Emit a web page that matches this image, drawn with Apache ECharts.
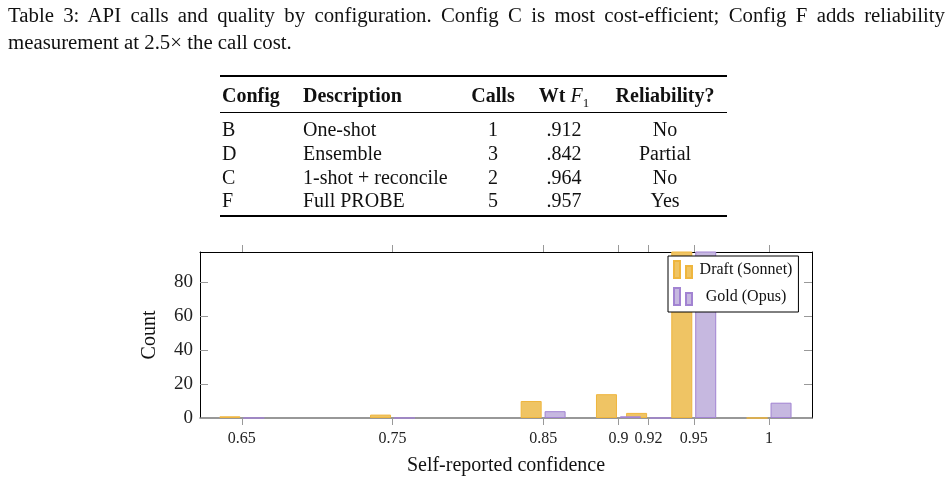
<!DOCTYPE html>
<html>
<head>
<meta charset="utf-8">
<script src="https://cdn.jsdelivr.net/npm/echarts@6/dist/echarts.min.js"></script>
<style>
body { margin: 0; background: #fff; }
#wrap { position: relative; width: 949px; height: 484px; font-family: 'Liberation Serif', serif; color: #111; }
#chart { position: absolute; left: 0; top: 0; width: 949px; height: 484px; }
.caption { position: absolute; left: 8px; font-size: 20.8px; line-height: 27px; white-space: nowrap; z-index: 2; }
.caption.first { top: 1px; width: 937px; white-space: normal; text-align: justify; text-align-last: justify; }
.caption.second { top: 28px; }
.rule { position: absolute; left: 220px; width: 507px; background: #000; z-index: 2; }
.cell { position: absolute; font-size: 20px; line-height: 22px; white-space: nowrap; z-index: 2; }
</style>
</head>
<body>
<div id="wrap">
  <div id="chart"></div>
  <div class="caption first">Table 3: API calls and quality by configuration. Config C is most cost-efficient; Config F adds reliability</div>
  <div class="caption second">measurement at 2.5&times; the call cost.</div>
  <div id="table"></div>
</div>
<script>
// table data
const tableHeaders = ['<b>Config</b>', '<b>Description</b>', '<b>Calls</b>', '<b>Wt</b> <i>F</i><sub style="font-size:13px">1</sub>', '<b>Reliability?</b>']
const configs = ['B', 'D', 'C', 'F']
const descriptions = ['One-shot', 'Ensemble', '1-shot + reconcile', 'Full PROBE']
const calls = ['1', '3', '2', '5']
const wtF1 = ['.912', '.842', '.964', '.957']
const reliability = ['No', 'Partial', 'No', 'Yes']

// chart data
const confidence = [0.65, 0.75, 0.85, 0.9, 0.92, 0.95, 1]
const draftCounts = [1, 2, 10, 14, 3, 112, 0]
const goldCounts = [0, 0, 4, 1, 0, 110, 9]
const yTicks = [0, 20, 40, 60, 80]

// build table
const table = document.getElementById('table')
const colX = [222, 303, 493, 564, 665]
const colAlign = ['left', 'left', 'center', 'center', 'center']
const headerY = 95
const rowY = [129, 153, 177, 200]

function addCell(html, col, y) {
  const el = document.createElement('div')
  el.className = 'cell'
  el.innerHTML = html
  el.style.top = (y - 11) + 'px'
  el.style.left = colX[col] + 'px'
  if (colAlign[col] === 'center') el.style.transform = 'translateX(-50%)'
  table.appendChild(el)
}
function addRule(y, h) {
  const el = document.createElement('div')
  el.className = 'rule'
  el.style.top = y + 'px'
  el.style.height = h + 'px'
  table.appendChild(el)
}
addRule(75, 1.6)
addRule(112, 1)
addRule(215, 1.6)
tableHeaders.forEach((h, c) => addCell(h, c, headerY))
const columns = [configs, descriptions, calls, wtF1, reliability]
columns.forEach((col, c) => col.forEach((v, r) => addCell(v, c, rowY[r])))

// chart
const font = 'Liberation Serif'
const xMin = 0.6222
const xMax = 1.0285
const yMax = 97.6
const myChart = echarts.init(document.getElementById('chart'))
myChart.setOption({
  animation: false,
  textStyle: { fontFamily: font },
  grid: { left: 200, top: 252, width: 612, height: 166, containLabel: false },
  legend: {
    orient: 'vertical',
    left: 668,
    top: 256,
    padding: [4, 6, 6, 5],
    itemGap: 8,
    itemWidth: 18,
    itemHeight: 17,
    backgroundColor: '#fff',
    borderColor: '#000',
    borderWidth: 1,
    borderRadius: 0,
    icon: 'path://M0,0H6V17H0ZM12,5H18V17H12Z',
    formatter: name => '{t|' + name + '}',
    textStyle: {
      rich: {
        t: { width: 98, align: 'center', fontSize: 16, fontFamily: font, color: '#111' }
      }
    }
  },
  xAxis: [
    {
      type: 'value',
      position: 'bottom',
      min: xMin,
      max: xMax,
      name: 'Self-reported confidence',
      nameLocation: 'middle',
      nameGap: 38,
      nameTextStyle: { fontSize: 20, color: '#111', fontFamily: font },
      axisLine: { onZero: false, lineStyle: { color: '#777', width: 1.5 } },
      axisTick: { show: true, inside: false, length: 7, customValues: confidence, lineStyle: { color: '#999' } },
      axisLabel: { customValues: confidence, margin: 13, fontSize: 16, color: '#222', fontFamily: font },
      splitLine: { show: false }
    },
    {
      type: 'value',
      position: 'top',
      min: xMin,
      max: xMax,
      axisLine: { onZero: false, lineStyle: { color: '#000', width: 1 } },
      axisTick: { show: true, inside: false, length: 7, customValues: confidence, lineStyle: { color: '#999' } },
      axisLabel: { show: false },
      splitLine: { show: false }
    }
  ],
  yAxis: [
    {
      type: 'value',
      position: 'left',
      min: 0,
      max: yMax,
      name: 'Count',
      nameLocation: 'middle',
      nameGap: 40,
      nameTextStyle: { fontSize: 20, color: '#111', fontFamily: font },
      axisLine: { show: true, onZero: false, lineStyle: { color: '#000', width: 1 } },
      axisTick: { show: true, inside: true, length: 8, customValues: yTicks, lineStyle: { color: '#999' } },
      axisLabel: { customValues: yTicks, margin: 7, fontSize: 19, color: '#222', fontFamily: font },
      splitLine: { show: false }
    },
    {
      type: 'value',
      position: 'right',
      min: 0,
      max: yMax,
      axisLine: { show: true, onZero: false, lineStyle: { color: '#000', width: 1 } },
      axisTick: { show: true, inside: true, length: 8, customValues: yTicks, lineStyle: { color: '#999' } },
      axisLabel: { show: false },
      splitLine: { show: false }
    }
  ],
  series: [
    {
      name: 'Draft (Sonnet)',
      type: 'bar',
      xAxisIndex: 0,
      yAxisIndex: 0,
      clip: true,
      barWidth: 21,
      barGap: '14%',
      data: confidence.map((x, i) => [x, draftCounts[i]]),
      itemStyle: { color: '#efc464', borderColor: '#efb63e', borderWidth: 1 }
    },
    {
      name: 'Gold (Opus)',
      type: 'bar',
      xAxisIndex: 0,
      yAxisIndex: 0,
      clip: true,
      barWidth: 21,
      barGap: '14%',
      data: confidence.map((x, i) => [x, goldCounts[i]]),
      itemStyle: { color: '#c6b8e0', borderColor: '#a283d2', borderWidth: 1 }
    }
  ]
})
</script>
</body>
</html>
